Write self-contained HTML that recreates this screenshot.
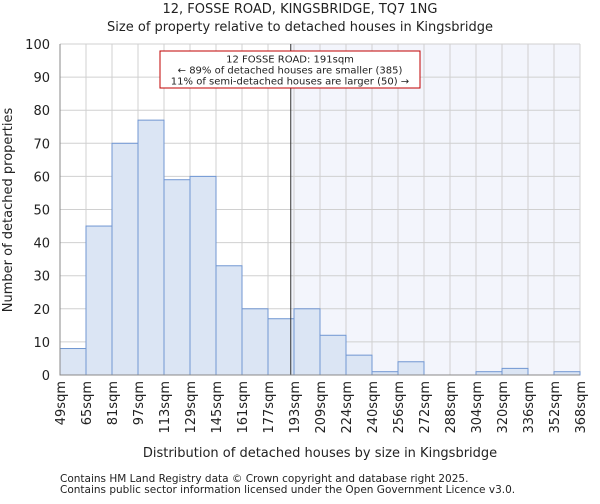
<!DOCTYPE html>
<html><head><meta charset="utf-8"><style>
body{margin:0;background:#fff;font-family:"DejaVu Sans","Liberation Sans",sans-serif;}
text{font-family:"DejaVu Sans","Liberation Sans",sans-serif;fill:#222;}
</style></head><body>
<svg id="chart" width="600" height="500" xmlns="http://www.w3.org/2000/svg">
<text x="300" y="13" text-anchor="middle" font-size="13">12, FOSSE ROAD, KINGSBRIDGE, TQ7 1NG</text>
<text x="300" y="31" text-anchor="middle" font-size="13">Size of property relative to detached houses in Kingsbridge</text>
<g id="plot"></g>
<text x="320" y="457" text-anchor="middle" font-size="13">Distribution of detached houses by size in Kingsbridge</text>
<text transform="translate(12,210) rotate(-90)" text-anchor="middle" font-size="13">Number of detached properties</text>
<text x="60" y="482" font-size="10.5" fill="#555">Contains HM Land Registry data © Crown copyright and database right 2025.</text>
<text x="60" y="493" font-size="10.5" fill="#555">Contains public sector information licensed under the Open Government Licence v3.0.</text>
</svg>
<script>
const binLabels=["49sqm","65sqm","81sqm","97sqm","113sqm","129sqm","145sqm","161sqm","177sqm","193sqm","209sqm","224sqm","240sqm","256sqm","272sqm","288sqm","304sqm","320sqm","336sqm","352sqm","368sqm"];
const counts=[8,45,70,77,59,60,33,20,17,20,12,6,1,4,0,0,1,2,0,1];
const yTicks=[0,10,20,30,40,50,60,70,80,90,100];
const markerBin=8.875;
const L=60,R=580,T=44,B=375,yMax=100;
const NS="http://www.w3.org/2000/svg";
const g=document.getElementById('plot');
const n=counts.length;
const x=i=>L+(R-L)*i/n;
const y=v=>B-(B-T)*v/yMax;
function el(t,a){const e=document.createElementNS(NS,t);for(const k in a)e.setAttribute(k,a[k]);g.appendChild(e);return e;}
const mx=x(markerBin);
let s=el('rect',{x:mx,y:T,width:R-mx,height:B-T,fill:'#f3f5fc'});


yTicks.forEach(v=>{
 const l=el('line',{x1:L,x2:R,y1:y(v),y2:y(v),stroke:'#d0d0d0'});
 
 
 const t=el('text',{x:L-10,y:y(v)+5,'text-anchor':'end','font-size':13});
 t.textContent=v;
 
 
});
for(let i=0;i<=n;i++){
 const l=el('line',{x1:x(i),x2:x(i),y1:T,y2:B,stroke:'#d0d0d0'});
 
 
}
counts.forEach((c,i)=>{
 if(c<=0)return;
 const r=el('rect',{x:x(i),y:y(c),width:x(i+1)-x(i),height:B-y(c),fill:'#dbe5f4',stroke:'#7096d2','stroke-width':1});
 
 
});
binLabels.forEach((lb,i)=>{
 const t=el('text',{transform:`translate(${x(i)+5},${B+6}) rotate(-90)`,'text-anchor':'end','font-size':13});
 t.textContent=lb;
 
 
});
const ml=el('line',{x1:mx,x2:mx,y1:T,y2:B,stroke:'#333','stroke-width':1});


const box=el('rect',{x:160,y:51,width:260,height:37,fill:'#fff',stroke:'#c00000'});


["12 FOSSE ROAD: 191sqm","← 89% of detached houses are smaller (385)","11% of semi-detached houses are larger (50) →"].forEach((s,i)=>{
 const t=el('text',{x:290,y:62.5+i*11,'text-anchor':'middle','font-size':10});
 t.textContent=s;
 
 
});
const ax=el('path',{d:`M${L},${T}V${B}H${R}`,fill:'none',stroke:'#888'});


</script>
</body></html>
